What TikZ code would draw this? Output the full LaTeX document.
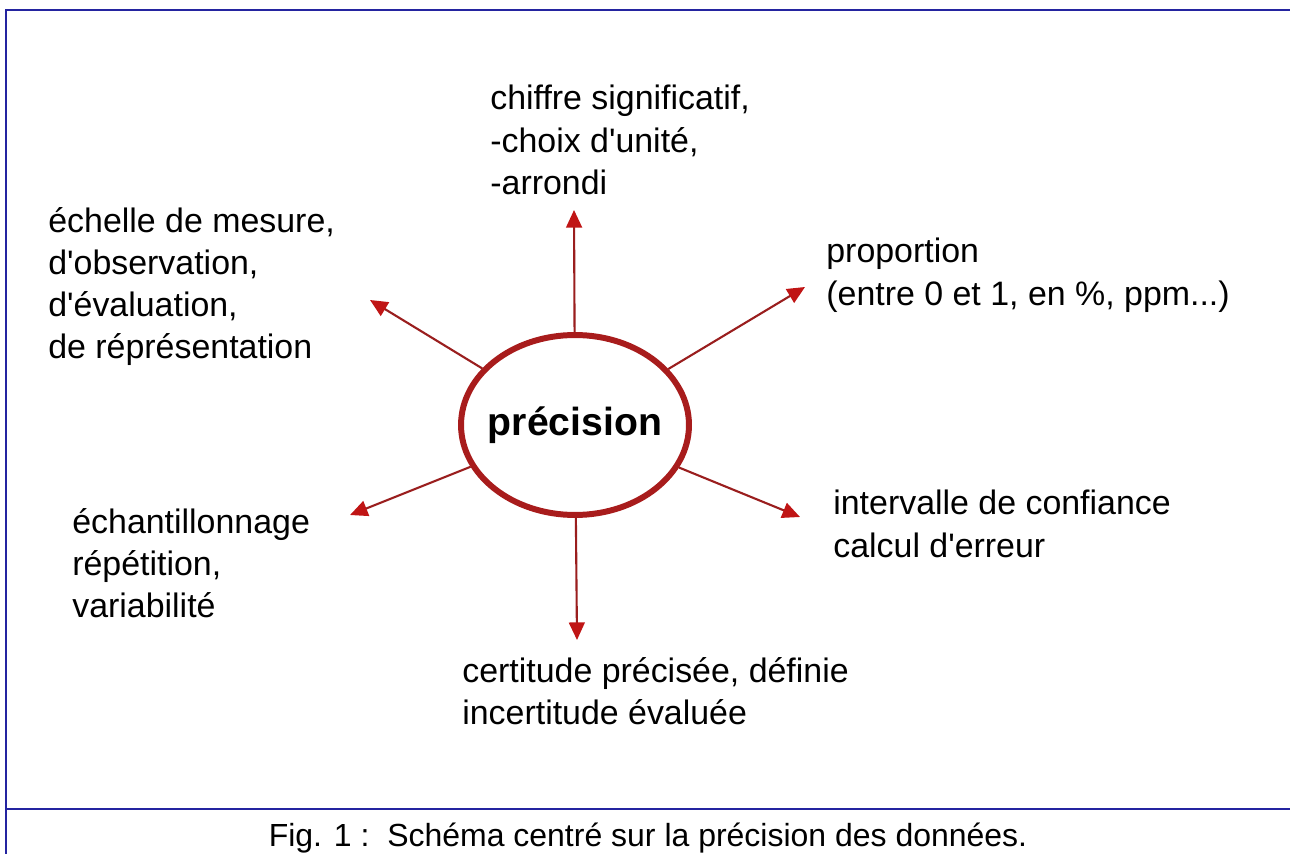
\documentclass[tikz,border=0pt]{standalone}
\usepackage{fontspec}
\setmainfont{Liberation Sans}
\usetikzlibrary{shapes.geometric,arrows.meta}
\definecolor{framecol}{HTML}{2424A0}
\definecolor{ringcol}{HTML}{A81C1C}
\definecolor{arrowcol}{HTML}{9A1E1E}
\definecolor{tipcol}{HTML}{C01515}
\newcommand{\apo}{\textquotesingle}
\tikzset{
  lbl/.style={anchor=north west, inner sep=0pt, align=left,
    font=\fontsize{19.3}{24}\selectfont},
  ring/.style={ellipse, draw=ringcol, line width=3.4pt, minimum width=4.56cm,
    minimum height=3.6cm, inner sep=0pt, font=\fontsize{22.3}{26}\selectfont\bfseries},
  spoke/.style={draw=arrowcol, line width=1.2pt,
    -{Triangle[length=10pt,width=9pt,fill=tipcol,color=tipcol]}},
  framel/.style={draw=framecol, line width=1.2pt}
}
\begin{document}
\begin{tikzpicture}[x=0.02cm,y=-0.02cm]
\useasboundingbox (0,0) rectangle (1290,854);
% frame
\coordinate (fTL) at (6,10);
\coordinate (fTR) at (1290,10);
\coordinate (fBL) at (6,854);
\coordinate (fML) at (6,809);
\coordinate (fMR) at (1290,809);
\draw[framel] (fBL) -- (fTL) -- (fTR);
\draw[framel] (fML) -- (fMR);
% center
\node[ring] (c) at (575,425) {\makebox[0pt][c]{précision}};
% labels
\node[lbl] (top) at (490,85) {chiffre significatif,\\-choix d\apo unité,\\-arrondi};
\node[lbl] (ul) at (48,207) {échelle de mesure,\\d\apo observation,\\d\apo évaluation,\\de réprésentation};
\node[lbl] (ur) at (826,238) {proportion\\(entre 0 et 1, en \%, ppm...)};
\node[lbl] (ll) at (72,508) {échantillonnage\\répétition,\\variabilité};
\node[lbl] (lr) at (833,490) {intervalle de confiance\\calcul d\apo erreur};
\node[lbl] (bot) at (462,657) {certitude précisée, définie\\incertitude évaluée};
\node[anchor=base, inner sep=0pt, font=\fontsize{18.2}{22}\selectfont] (cap) at (648,846)
  {Fig. 1 :\ \ Schéma centré sur la précision des données.};
% arrow tips
\coordinate (tTop) at (574,210);
\coordinate (tUL) at (370,300);
\coordinate (tUR) at (805,287);
\coordinate (tLL) at (350,515);
\coordinate (tLR) at (800,517);
\coordinate (tBot) at (577,640);
\draw[spoke] (c) -- (tTop);
\draw[spoke] (c) -- (tUL);
\draw[spoke] (c) -- (tUR);
\draw[spoke] (c) -- (tLL);
\draw[spoke] (c) -- (tLR);
\draw[spoke] (c) -- (tBot);
\end{tikzpicture}
\end{document}
